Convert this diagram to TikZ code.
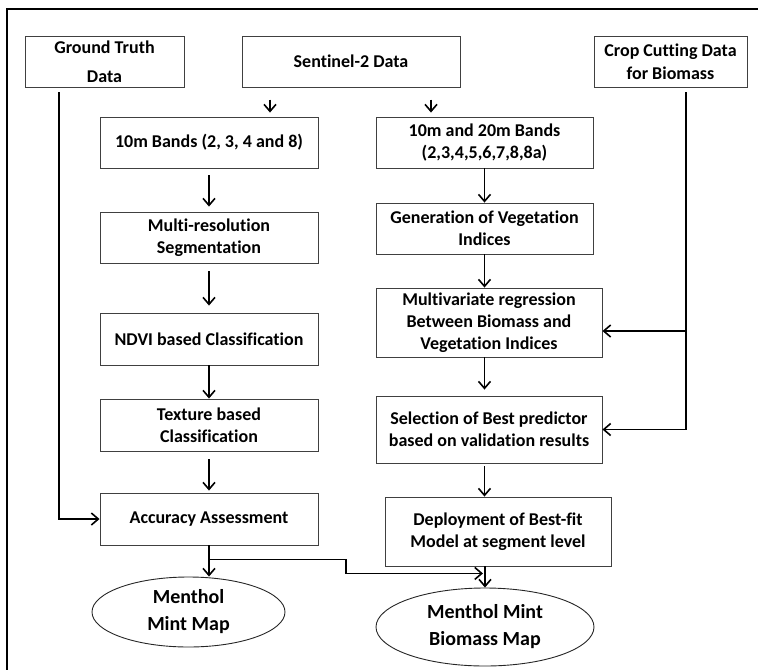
\documentclass[tikz,border=0pt]{standalone}
\usepackage{fontspec}
\setmainfont{Carlito}[Ligatures=NoCommon]
\usetikzlibrary{arrows.meta,shapes.geometric,calc}
\tikzset{
  box/.style={draw=black!75, line width=0.9pt, rectangle, align=center, inner sep=2pt,
    font=\fontsize{18}{22}\selectfont\bfseries},
  oval/.style={draw=black!85, line width=0.9pt, ellipse, align=center, inner sep=0pt,
    font=\fontsize{20}{27}\selectfont\bfseries},
  arr/.style={line width=1.8pt, -{Straight Barb[length=7pt,width=12pt,line width=1.6pt]}},
  ln/.style={line width=1.8pt}
}
\begin{document}
\begin{tikzpicture}[x=1pt,y=-1pt]
\useasboundingbox (0,0) rectangle (758,670);
% frame (top and left visible)
\draw[line width=1.2pt] (758,9) -- (7,9) -- (7,670);
% top row
\node[box, minimum width=159pt, minimum height=51pt, font=\fontsize{18}{29}\selectfont\bfseries] (gt) at (104.5,61.5) {Ground Truth\\Data};
\node[box, minimum width=218pt, minimum height=51pt] (s2) at (351,61.5) {Sentinel-2 Data};
\node[box, minimum width=153pt, minimum height=51pt, font=\fontsize{18}{23}\selectfont\bfseries] (cc) at (670.5,61.5) {Crop Cutting Data\\for Biomass};
% left column
\node[box, minimum width=218pt, minimum height=51pt] (b10) at (209,142.5) {10m Bands (2, 3, 4 and 8)};
\node[box, minimum width=218pt, minimum height=51pt] (mrs) at (209,237.5) {Multi-resolution\\Segmentation};
\node[box, minimum width=218pt, minimum height=52pt] (ndvi) at (209,339) {NDVI based Classification};
\node[box, minimum width=218pt, minimum height=52pt] (tex) at (209,425) {Texture based\\Classification};
\node[box, minimum width=218pt, minimum height=52pt] (acc) at (209,519) {Accuracy Assessment};
\node[oval, minimum width=193pt, minimum height=70pt] (mmm) at (188.5,612) {Menthol\\Mint Map};
% right column
\node[box, minimum width=217pt, minimum height=51pt] (b20) at (484.5,142.5) {10m and 20m Bands\\(2,3,4,5,6,7,8,8a)};
\node[box, minimum width=217pt, minimum height=51pt] (gen) at (484.5,228.5) {Generation of Vegetation\\Indices};
\node[box, minimum width=226pt, minimum height=69pt] (mvr) at (489,322.5) {Multivariate regression\\Between Biomass and\\Vegetation Indices};
\node[box, minimum width=226pt, minimum height=67pt] (sel) at (489,429.5) {Selection of Best predictor\\based on validation results};
\node[box, minimum width=226pt, minimum height=69pt] (dep) at (498,531.5) {Deployment of Best-fit\\Model at segment level};
\node[oval, minimum width=218pt, minimum height=78pt] (mmb) at (485,627) {Menthol Mint\\Biomass Map};
% short arrows from Sentinel-2
\draw[arr] ([xshift=61pt,yshift=17pt]b10.north) -- ([xshift=61pt,yshift=4pt]b10.north);
\draw[arr] ([xshift=-53.5pt,yshift=17pt]b20.north) -- ([xshift=-53.5pt,yshift=4pt]b20.north);
% left column arrows
\draw[arr] ([yshift=-7pt]b10.south) -- ([yshift=5pt]mrs.north);
\draw[arr] ([yshift=-8pt]mrs.south) -- ([yshift=7pt]ndvi.north);
\draw[arr] (ndvi.south) -- (tex.north);
\draw[arr] ([yshift=-8pt]tex.south) -- ([yshift=2pt]acc.north);
\draw[arr] (acc.south) -- (acc.south |- mmm.north);
% ground truth to accuracy
\coordinate (gt1) at ([xshift=-45.5pt,yshift=-5pt]gt.south);
\draw[arr] (gt1) |- (acc.west);
% branch from accuracy to biomass map
\coordinate (br) at ([yshift=-14pt]acc.south);
\draw[arr] (br) -- ++(137,0) -- ++(0,14) -- ([xshift=-15pt,yshift=-7pt]dep.south);
% right column arrows
\draw[arr] (b20.south) -- (gen.north);
\draw[arr] (gen.south) -- (gen.south |- mvr.north);
\draw[arr] (mvr.south -| gen.south) -- ([yshift=6pt]sel.north -| gen.south);
\draw[arr] ([yshift=-3pt]sel.south -| gen.south) -- (dep.north -| gen.south);
\draw[arr] (dep.south -| mmb.north) -- (mmb.north);
% crop cutting data
\coordinate (cc1) at ([xshift=15.5pt,yshift=-5pt]cc.south);
\draw[arr] (cc1) |- (sel.east);
\draw[arr] ([yshift=-8.5pt]mvr.east -| cc1) -- ([yshift=-8.5pt]mvr.east);
\end{tikzpicture}
\end{document}
